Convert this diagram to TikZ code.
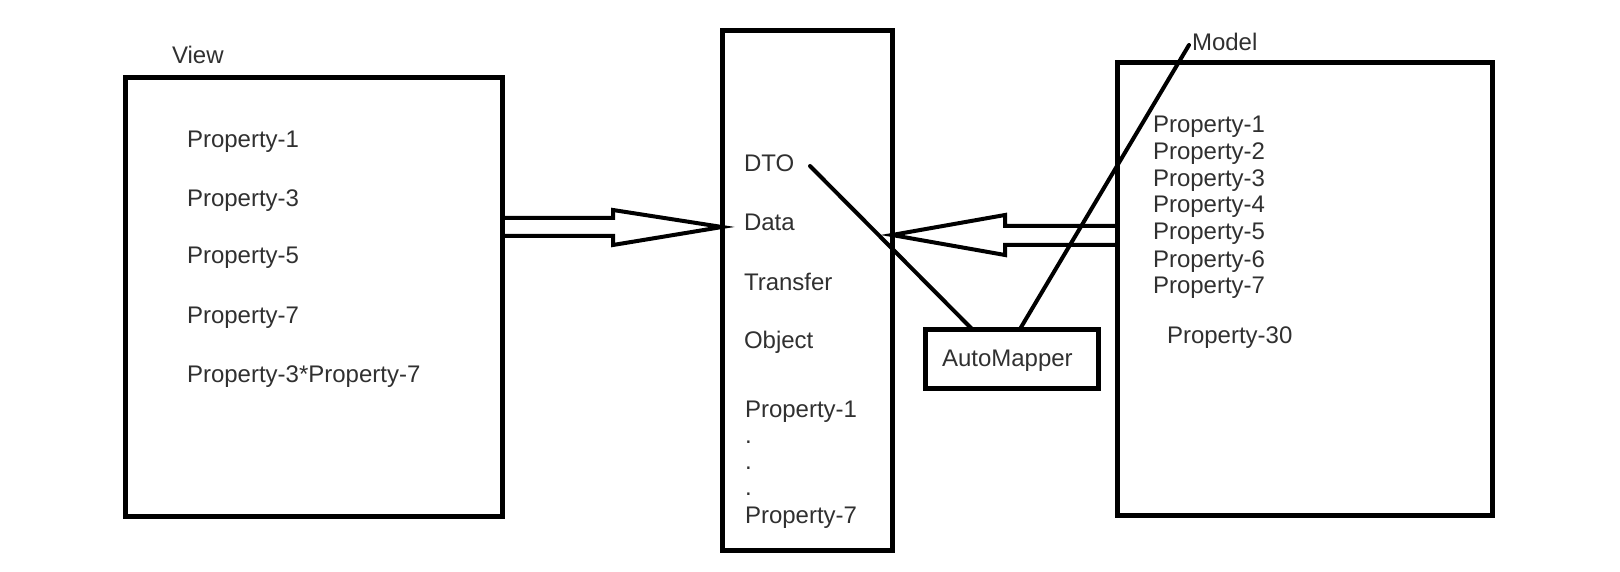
\documentclass[tikz,border=0pt]{standalone}
\usepackage{fontspec}
\setmainfont{Liberation Sans}
\usetikzlibrary{calc}
\definecolor{txt}{HTML}{303030}
\tikzset{
  box/.style={draw=black, line width=5pt, rectangle, inner sep=0pt, outer sep=0pt, anchor=north west},
  lbl/.style={anchor=base west, inner sep=0pt, outer sep=0pt, text=txt, font=\fontsize{24pt}{28pt}\selectfont},
  hollow/.style={draw=black, line width=4pt, line join=miter},
  link/.style={draw=black, line width=4pt, line cap=round}
}
\begin{document}
\begin{tikzpicture}[x=1pt,y=-1pt]
\useasboundingbox (0,0) rectangle (1620,572);
% boxes
\node[box, minimum width=377pt, minimum height=438pt] (view) at (125,78) {};
\node[box, minimum width=170pt, minimum height=519pt] (dto) at (722,31) {};
\node[box, minimum width=173pt, minimum height=59pt] (am) at (925,329) {};
\node[box, minimum width=375pt, minimum height=452pt] (model) at (1117,63) {};
% view texts
\node[lbl] (viewlbl) at (172,64) {View};
\node[lbl] (v1) at (187,148) {Property-1};
\node[lbl] (v3) at (187,207) {Property-3};
\node[lbl] (v5) at (187,264) {Property-5};
\node[lbl] (v7) at (187,323) {Property-7};
\node[lbl] (v37) at (187,382) {Property-3*Property-7};
% dto texts
\node[lbl] (dtolbl) at (744,172) {DTO};
\node[lbl] (d2) at (744,231) {Data};
\node[lbl] (d3) at (744,290) {Transfer};
\node[lbl] (d4) at (744,348) {Object};
\node[lbl] (dp1) at (745,417) {Property-1};
\node[lbl] (dot1) at (745,443) {.};
\node[lbl] (dot2) at (745,469) {.};
\node[lbl] (dot3) at (745,495) {.};
\node[lbl] (dp7) at (745,523) {Property-7};
% automapper
\node[lbl] (amlbl) at (942,366) {AutoMapper};
% model texts
\node[lbl] (modellbl) at (1192,51) {Model};
\node[lbl] (m1) at (1153,133) {Property-1};
\node[lbl] (m2) at (1153,160) {Property-2};
\node[lbl] (m3) at (1153,187) {Property-3};
\node[lbl] (m4) at (1153,213) {Property-4};
\node[lbl] (m5) at (1153,240) {Property-5};
\node[lbl] (m6) at (1153,267) {Property-6};
\node[lbl] (m7) at (1153,293) {Property-7};
\node[lbl] (m30) at (1167,343) {Property-30};
% hollow arrows
\draw[hollow] (view.east |- 0,218) -- (613,218) -- (613,210) -- (dto.west |- 0,227) -- (613,245) -- (613,236) -- (view.east |- 0,236);
\draw[hollow] (model.west |- 0,226) -- (1005,226) -- (1005,215) -- (dto.east |- 0,235) -- (1005,255) -- (1005,245) -- (model.west |- 0,245);
% mapping lines
\coordinate (dtoend) at (810,166);
\coordinate (modelend) at (1189,45);
\draw[link] (dtoend) -- ($(am.north west)+(47,0)$);
\draw[link] ($(am.north west)+(95,0)$) -- (modelend);
\end{tikzpicture}
\end{document}
